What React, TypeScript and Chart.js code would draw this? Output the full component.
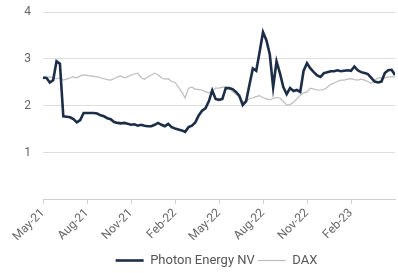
import React, { useEffect, useRef } from "react";
import { Chart, registerables } from "chart.js";

Chart.register(...registerables);

const tickLabels = ["May-21", "Aug-21", "Nov-21", "Feb-22", "May-22", "Aug-22", "Nov-22", "Feb-23"];

const photonEnergy = [
  2.6, 2.6, 2.5, 2.55, 2.95, 2.9, 1.78, 1.77, 1.76, 1.72,
  1.65, 1.7, 1.85, 1.85, 1.85, 1.85, 1.84, 1.8, 1.78, 1.74,
  1.72, 1.66, 1.64, 1.63, 1.64, 1.62, 1.6, 1.61, 1.58, 1.6,
  1.58, 1.57, 1.57, 1.6, 1.64, 1.6, 1.57, 1.62, 1.55, 1.52,
  1.5, 1.48, 1.45, 1.55, 1.58, 1.65, 1.8, 1.9, 1.95, 2.1,
  2.33, 2.15, 2.13, 2.15, 2.38, 2.38, 2.36, 2.3, 2.22, 2.02,
  2.1, 2.45, 2.8, 2.75, 3.15, 3.57, 3.4, 3.1, 2.4, 2.95,
  2.7, 2.4, 2.25, 2.38, 2.32, 2.34, 2.3, 2.75, 2.91, 2.8,
  2.72, 2.65, 2.62, 2.7, 2.72, 2.74, 2.74, 2.76, 2.74, 2.75,
  2.76, 2.75, 2.84, 2.76, 2.72, 2.7, 2.68, 2.6, 2.52, 2.5,
  2.52, 2.7, 2.76, 2.77, 2.66,
];

const dax = [
  2.57, 2.6, 2.62, 2.6, 2.58, 2.6, 2.55, 2.57, 2.6, 2.62,
  2.6, 2.64, 2.66, 2.65, 2.64, 2.63, 2.62, 2.6, 2.58, 2.56,
  2.55, 2.58, 2.62, 2.64, 2.6, 2.62, 2.66, 2.68, 2.7, 2.6,
  2.57, 2.62, 2.66, 2.7, 2.66, 2.6, 2.57, 2.58, 2.52, 2.5,
  2.4, 2.3, 2.17, 2.38, 2.4, 2.36, 2.35, 2.34, 2.3, 2.28,
  2.32, 2.38, 2.38, 2.4, 2.4, 2.38, 2.3, 2.25, 2.18, 2.1,
  2.1, 2.16, 2.17, 2.2, 2.22, 2.18, 2.15, 2.13, 2.16, 2.18,
  2.17, 2.1, 2.02, 2.03, 2.08, 2.15, 2.23, 2.28, 2.3, 2.38,
  2.36, 2.34, 2.34, 2.35, 2.4, 2.46, 2.49, 2.52, 2.55, 2.55,
  2.57, 2.58, 2.56, 2.55, 2.57, 2.55, 2.52, 2.48, 2.55, 2.6,
  2.6, 2.6, 2.62, 2.62, 2.62,
];

const weeksPerTick = 13;

const legendShift = {
  id: "legendShift",
  afterLayout(chart: any) {
    const lg = chart.legend;
    if (!lg) return;
    lg.left += 19;
    lg.right += 19;
    lg.top += 5;
    lg.bottom += 5;
  },
};

export default function App() {
  const ref = useRef<HTMLCanvasElement | null>(null);
  useEffect(() => {
    if (!ref.current) return;
    const toPts = (arr: number[]) => arr.map((y, i) => ({ x: i, y }));
    const chart = new Chart(ref.current, {
      type: "line",
      data: {
        datasets: [
          {
            label: "Photon Energy NV",
            data: toPts(photonEnergy),
            borderColor: "#1c2e47",
            backgroundColor: "#1c2e47",
            borderWidth: 2.6,
            pointRadius: 0,
            tension: 0,
          },
          {
            label: "DAX",
            data: toPts(dax),
            borderColor: "#bdbdbd",
            backgroundColor: "#bdbdbd",
            borderWidth: 1.2,
            pointRadius: 0,
            tension: 0,
          },
        ],
      },
      options: {
        animation: false,
        responsive: true,
        maintainAspectRatio: false,
        layout: { padding: { left: 0, right: 3, top: 0, bottom: 1 } },
        font: { family: "Roboto" },
        scales: {
          x: {
            type: "linear",
            min: 0,
            max: photonEnergy.length - 1,
            afterBuildTicks: (scale: any) => {
              scale.ticks = tickLabels.map((_, i) => ({ value: i * weeksPerTick }));
            },
            ticks: {
              minRotation: 45,
              maxRotation: 45,
              color: "#666",
              font: { family: "Roboto", size: 12 },
              padding: 2,
              callback: (v: any) => tickLabels[Math.round(Number(v) / weeksPerTick)] ?? "",
            },
            grid: { drawOnChartArea: false, drawTicks: true, tickLength: 4, color: "#cfcfcf" },
            border: { display: true, color: "#cfcfcf" },
          },
          y: {
            min: 0,
            max: 4,
            afterFit: (scale: any) => {
              scale.width = 43;
              scale.paddingTop = 12;
            },
            ticks: {
              stepSize: 1,
              color: "#666",
              font: { family: "Roboto", size: 12 },
              padding: 12,
              callback: (v: any) => (Number(v) === 0 ? "" : String(v)),
            },
            grid: { color: "#dedede", drawTicks: false },
            border: { display: false },
          },
        },
        plugins: {
          legend: {
            position: "bottom",
            labels: {
              usePointStyle: true,
              pointStyle: "line",
              pointStyleWidth: 28,
              color: "#555",
              font: { family: "Roboto", size: 13 },
              padding: 3,
            },
          },
          tooltip: { enabled: false },
        },
      },
      plugins: [legendShift],
    });
    return () => chart.destroy();
  }, []);
  return (
    <div style={{ position: "fixed", left: 0, top: 0, width: 398, height: 273, background: "#fff" }}>
      <canvas ref={ref} />
    </div>
  );
}
